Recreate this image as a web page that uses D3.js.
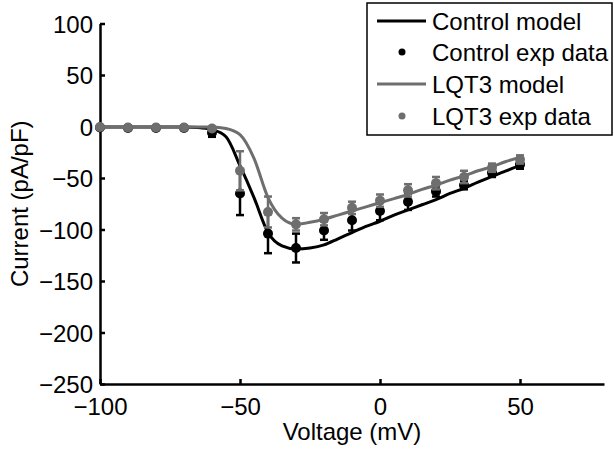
<!DOCTYPE html>
<html>
<head>
<meta charset="utf-8">
<script src="https://cdn.jsdelivr.net/npm/d3@7"></script>
<style>
  body { margin: 0; background: #fff; }
  text { font-family: "Liberation Sans", Arial, sans-serif; }
</style>
</head>
<body>
<script>
// experimental points (mV, pA/pF)
const expVoltage = [-100, -90, -80, -70, -60, -50, -40, -30, -20, -10, 0, 10, 20, 30, 40, 50];
const controlExp = [-1, -1.5, -1.5, -1.5, -6, -65, -104, -118, -101, -91, -82, -73, -63, -57, -45, -37];
const controlErr = [1, 1, 1, 1, 4, 21, 19, 14, 9, 10, 9, 8, 5, 4, 4, 4];
const lqt3Exp = [-0.5, -1, -1, -1, -2, -43, -83, -95, -90, -79, -72, -62, -55, -49, -40, -32];
const lqt3Err = [1, 1, 1, 1, 1, 19, 15, 6, 6, 6, 6, 6, 6, 6, 4, 4];

// model curves
const modelVoltage = [-100, -95, -90, -85, -80, -75, -70, -65, -60, -55, -50, -45, -40, -35, -30, -25, -20, -15, -10, -5, 0, 5, 10, 15, 20, 25, 30, 35, 40, 45, 50];
const controlModel = [-0.5, -0.5, -0.5, -0.5, -0.5, -0.5, -0.5, -1, -3, -10, -38, -69, -103, -116, -119, -118, -115, -109, -103, -97, -92, -86, -81, -76, -71, -65, -60, -54, -48.5, -43, -38];
const lqt3Model = [-0.5, -0.5, -0.5, -0.5, -0.5, -0.5, -0.5, -0.5, -0.5, -2, -8, -31, -69, -89, -95, -93, -90, -86, -82, -78, -74, -70, -66, -61, -57, -52, -48, -43, -39, -34, -30];

const xTicks = [-100, -50, 0, 50];
const yTicks = [100, 50, 0, -50, -100, -150, -200, -250];
const legendLabels = ['Control model', 'Control exp data', 'LQT3 model', 'LQT3 exp data'];

const width = 614, height = 449;
const black = '#000', grey = '#6e6e6e';

const svg = d3.select('body').append('svg')
  .attr('width', width)
  .attr('height', height);

const x = d3.scaleLinear().domain([-100, 80]).range([100, 604]);
const y = d3.scaleLinear().domain([-250, 100]).range([384, 23.5]);

// axes (MATLAB style: ticks inside, no box)
const xAxis = svg.append('g')
  .attr('transform', `translate(0,${y(-250)})`)
  .call(d3.axisTop(x).tickValues(xTicks).tickSize(5).tickSizeOuter(0).tickFormat(d3.format('d')));
xAxis.selectAll('text').remove();
xAxis.selectAll('.tick').append('text')
  .attr('y', 31)
  .attr('text-anchor', 'middle')
  .attr('fill', '#000')
  .style('font-size', '24px')
  .text(d => d3.format('d')(d));

const yAxis = svg.append('g')
  .attr('transform', `translate(${x(-100)},0)`)
  .call(d3.axisRight(y).tickValues(yTicks).tickSize(5).tickSizeOuter(0));
yAxis.selectAll('text').remove();
yAxis.selectAll('.tick').append('text')
  .attr('x', -7)
  .attr('dy', '0.36em')
  .attr('text-anchor', 'end')
  .attr('fill', '#000')
  .style('font-size', '24px')
  .text(d => d3.format('d')(d));

svg.selectAll('.domain, .tick line')
  .attr('stroke', '#000')
  .attr('stroke-width', 2.5);

svg.append('text')
  .attr('x', (x(-100) + x(80)) / 2)
  .attr('y', 440)
  .attr('text-anchor', 'middle')
  .style('font-size', '24px')
  .text('Voltage (mV)');

svg.append('text')
  .attr('transform', `translate(28,${(y(100) + y(-250)) / 2}) rotate(-90)`)
  .attr('text-anchor', 'middle')
  .style('font-size', '24px')
  .text('Current (pA/pF)');

const line = d3.line()
  .x(d => x(d[0]))
  .y(d => y(d[1]))
  .curve(d3.curveMonotoneX);

function drawModel(vals, color) {
  svg.append('path')
    .datum(modelVoltage.map((v, i) => [v, vals[i]]))
    .attr('d', line)
    .attr('fill', 'none')
    .attr('stroke', color)
    .attr('stroke-width', 3);
}

function drawExp(vals, errs, color) {
  const pts = expVoltage.map((v, i) => ({ v: v, c: vals[i], e: errs[i] }));
  const g = svg.append('g').attr('stroke', color).attr('stroke-width', 2.5);
  g.selectAll('.bar').data(pts).enter().append('line')
    .attr('x1', d => x(d.v)).attr('x2', d => x(d.v))
    .attr('y1', d => y(d.c - d.e)).attr('y2', d => y(d.c + d.e));
  g.selectAll('.capLo').data(pts).enter().append('line')
    .attr('x1', d => x(d.v) - 4).attr('x2', d => x(d.v) + 4)
    .attr('y1', d => y(d.c - d.e)).attr('y2', d => y(d.c - d.e));
  g.selectAll('.capHi').data(pts).enter().append('line')
    .attr('x1', d => x(d.v) - 4).attr('x2', d => x(d.v) + 4)
    .attr('y1', d => y(d.c + d.e)).attr('y2', d => y(d.c + d.e));
  svg.append('g').selectAll('circle').data(pts).enter().append('circle')
    .attr('cx', d => x(d.v))
    .attr('cy', d => y(d.c))
    .attr('r', 5)
    .attr('fill', color);
}

drawModel(controlModel, black);
drawExp(controlExp, controlErr, black);
drawModel(lqt3Model, grey);
drawExp(lqt3Exp, lqt3Err, grey);

// legend
const legend = svg.append('g');
legend.append('rect')
  .attr('x', 367).attr('y', 3)
  .attr('width', 245).attr('height', 132)
  .attr('fill', '#fff')
  .attr('stroke', '#000')
  .attr('stroke-width', 1.5);

const rowY = [21, 52, 84, 116];
legendLabels.forEach((label, i) => {
  const color = i < 2 ? black : grey;
  if (i % 2 === 0) {
    legend.append('line')
      .attr('x1', 377).attr('x2', 426)
      .attr('y1', rowY[i]).attr('y2', rowY[i])
      .attr('stroke', color)
      .attr('stroke-width', 3);
  } else {
    legend.append('circle')
      .attr('cx', 402).attr('cy', rowY[i])
      .attr('r', 3.5)
      .attr('fill', color);
  }
  legend.append('text')
    .attr('x', 432)
    .attr('y', rowY[i])
    .attr('dy', '0.36em')
    .style('font-size', '24px')
    .text(label);
});
</script>
</body>
</html>
